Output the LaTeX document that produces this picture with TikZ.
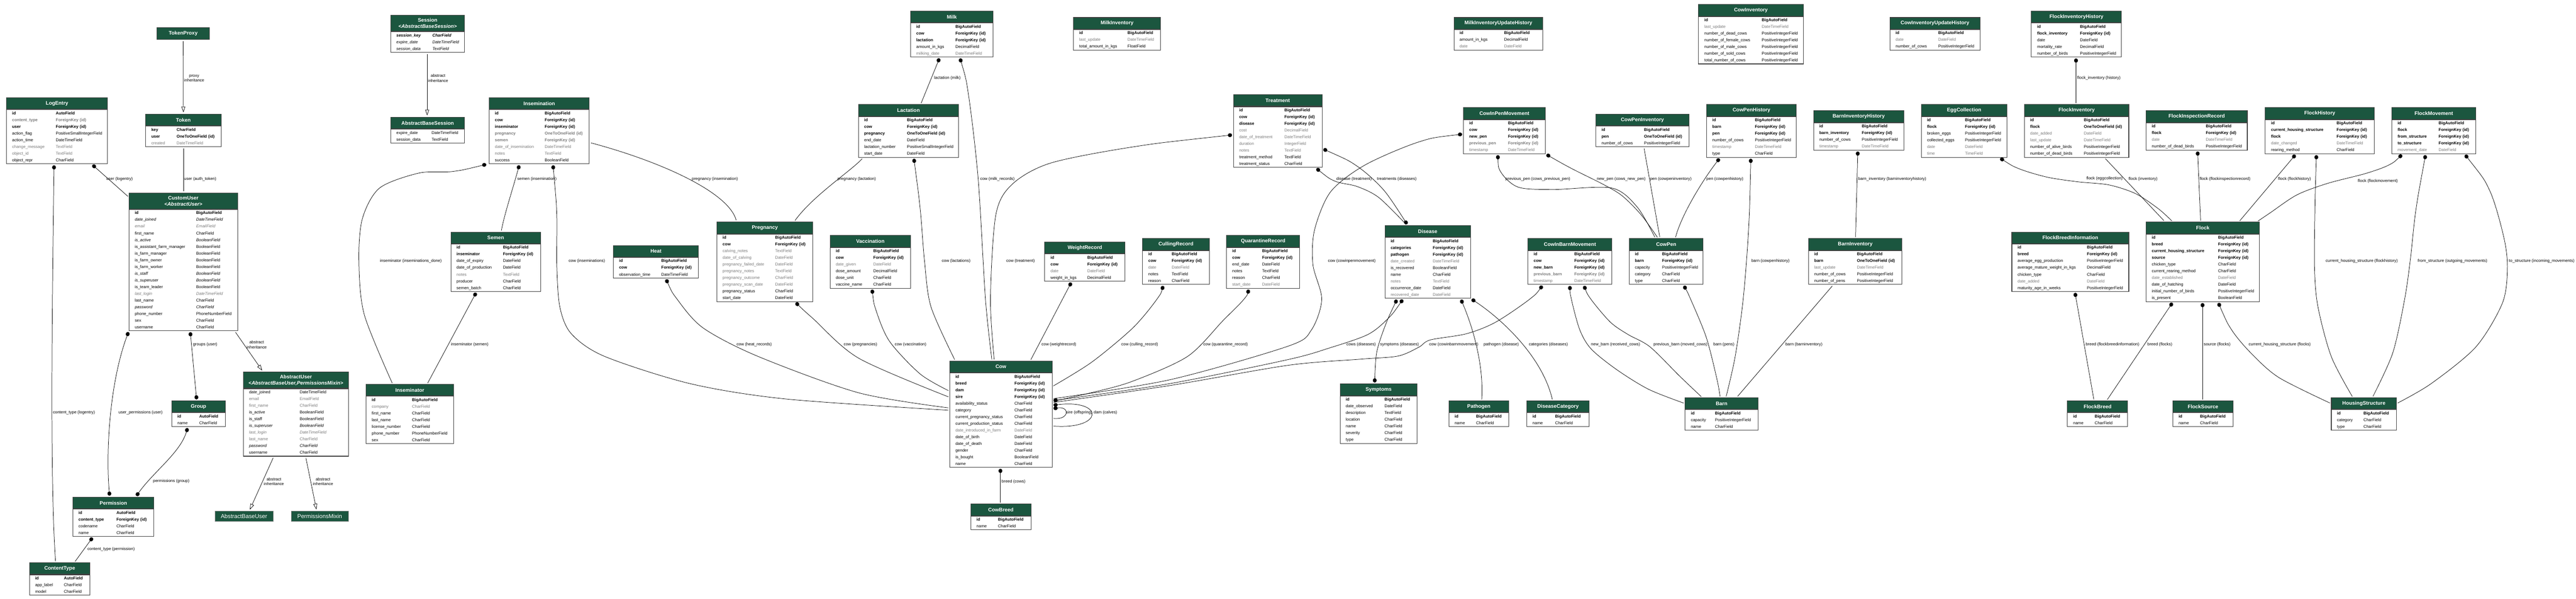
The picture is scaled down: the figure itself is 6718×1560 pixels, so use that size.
\documentclass[tikz,border=0pt]{standalone}
\usepackage{fontspec}
\setmainfont{Liberation Sans}
\usepackage{xcolor}
\usetikzlibrary{arrows.meta,calc}
\definecolor{hdrgreen}{HTML}{1B563F}
\definecolor{fgray}{HTML}{7B7B7B}
% table rows: key, plain, gray, gray key, italic, gray italic, key italic
\newcommand{\rkey}[2]{\textbf{#1} & \textbf{#2}\\}
\newcommand{\rnorm}[2]{#1 & #2\\}
\newcommand{\rgray}[2]{\textcolor{fgray}{#1} & \textcolor{fgray}{#2}\\}
\newcommand{\rgkey}[2]{\textcolor{fgray}{\textbf{#1}} & \textcolor{fgray}{\textbf{#2}}\\}
\newcommand{\rital}[2]{\textit{#1} & \textit{#2}\\}
\newcommand{\rgital}[2]{\textcolor{fgray}{\textit{#1}} & \textcolor{fgray}{\textit{#2}}\\}
\newcommand{\rkital}[2]{\textbf{\textit{#1}} & \textbf{\textit{#2}}\\}

\begin{document}
\begin{tikzpicture}[
	x = 1pt, y = -1pt,
	hdr/.style = {draw = black!75, line width = 1.4pt, fill = hdrgreen, text = white,
		anchor = north west, inner sep = 0pt, minimum height = 30pt,
		font = \bfseries\fontsize{13.3}{16}\selectfont},
	fld/.style = {draw = black!75, line width = 1.4pt, fill = white, anchor = north west,
		inner xsep = 15pt, inner ysep = 0.5pt, font = \fontsize{10.7}{17.5}\selectfont},
	base/.style = {fill = hdrgreen, draw = black!45, text = white, anchor = north west,
		inner sep = 0pt, minimum height = 27pt, font = \fontsize{15}{18}\selectfont},
	fk/.style = {line width = 1pt, arrows = {Circle[length = 11pt, width = 10pt]-},
		shorten <= 3pt, shorten >= 3pt},
	mm/.style = {line width = 1pt, arrows = {Circle[length = 11pt, width = 10pt]-Circle[length = 11pt, width = 10pt]},
		shorten <= 3pt, shorten >= 3pt},
	oto/.style = {line width = 1pt, shorten <= 4pt, shorten >= 4pt},
	inh/.style = {line width = 1pt, arrows = {-Triangle[open, length = 15pt, width = 10pt]},
		shorten <= 4pt, shorten >= 4pt},
	lbl/.style = {anchor = west, inner sep = 0pt, align = center, font = \fontsize{10.7}{13}\selectfont}
	]
	\useasboundingbox[fill = white] (0,0) rectangle (6718,1560);

	% ---- auth / admin models
	\node[hdr, minimum width = 264pt] (le) at (16,254) {LogEntry};
	\node[fld, text width = 234pt] (le-f) at (le.south west) {\begin{tabular}{@{}p{114pt}@{}l@{}}
		\rkey{id}{AutoField}
		\rgkey{content\_type}{ForeignKey (id)}
		\rkey{user}{ForeignKey (id)}
		\rnorm{action\_flag}{PositiveSmallIntegerField}
		\rnorm{action\_time}{DateTimeField}
		\rgray{change\_message}{TextField}
		\rgray{object\_id}{TextField}
		\rnorm{object\_repr}{CharField}
	\end{tabular}};

	\node[hdr, minimum width = 136pt, minimum height = 31pt] (tp) at (409,71) {TokenProxy};

	\node[hdr, minimum width = 197pt] (tok) at (379,297) {Token};
	\node[fld, text width = 167pt] (tok-f) at (tok.south west) {\begin{tabular}{@{}p{66pt}@{}l@{}}
		\rkey{key}{CharField}
		\rkey{user}{OneToOneField (id)}
		\rgray{created}{DateTimeField}
	\end{tabular}};

	\node[hdr, minimum width = 283pt, minimum height = 42pt, align = center] (cu) at (336,502) {CustomUser\\\textit{<AbstractUser>}};
	\node[fld, text width = 253pt] (cu-f) at (cu.south west) {\begin{tabular}{@{}p{160pt}@{}l@{}}
		\rkey{id}{BigAutoField}
		\rital{date\_joined}{DateTimeField}
		\rgital{email}{EmailField}
		\rnorm{first\_name}{CharField}
		\rital{is\_active}{BooleanField}
		\rnorm{is\_assistant\_farm\_manager}{BooleanField}
		\rnorm{is\_farm\_manager}{BooleanField}
		\rnorm{is\_farm\_owner}{BooleanField}
		\rnorm{is\_farm\_worker}{BooleanField}
		\rital{is\_staff}{BooleanField}
		\rital{is\_superuser}{BooleanField}
		\rnorm{is\_team\_leader}{BooleanField}
		\rgital{last\_login}{DateTimeField}
		\rnorm{last\_name}{CharField}
		\rital{password}{CharField}
		\rnorm{phone\_number}{PhoneNumberField}
		\rnorm{sex}{CharField}
		\rnorm{username}{CharField}
	\end{tabular}};

	\node[hdr, minimum width = 193pt, minimum height = 42pt, align = center] (ses) at (1018,39) {Session\\\textit{<AbstractBaseSession>}};
	\node[fld, text width = 163pt] (ses-f) at (ses.south west) {\begin{tabular}{@{}p{94pt}@{}l@{}}
		\rkital{session\_key}{CharField}
		\rital{expire\_date}{DateTimeField}
		\rital{session\_data}{TextField}
	\end{tabular}};

	\node[hdr, minimum width = 193pt] (abs) at (1018,305) {AbstractBaseSession};
	\node[fld, text width = 163pt] (abs-f) at (abs.south west) {\begin{tabular}{@{}p{92pt}@{}l@{}}
		\rnorm{expire\_date}{DateTimeField}
		\rnorm{session\_data}{TextField}
	\end{tabular}};

	\node[hdr, minimum width = 274pt, minimum height = 42pt, align = center] (au) at (634,969) {AbstractUser\\\textit{<AbstractBaseUser,PermissionsMixin>}};
	\node[fld, text width = 244pt] (au-f) at (au.south west) {\begin{tabular}{@{}p{132pt}@{}l@{}}
		\rnorm{date\_joined}{DateTimeField}
		\rgray{email}{EmailField}
		\rgray{first\_name}{CharField}
		\rnorm{is\_active}{BooleanField}
		\rnorm{is\_staff}{BooleanField}
		\rital{is\_superuser}{BooleanField}
		\rgital{last\_login}{DateTimeField}
		\rgray{last\_name}{CharField}
		\rital{password}{CharField}
		\rnorm{username}{CharField}
	\end{tabular}};

	\node[base, minimum width = 152pt] (abu) at (560,1332) {AbstractBaseUser};
	\node[base, minimum width = 149pt] (pm) at (759,1332) {PermissionsMixin};

	\node[hdr, minimum width = 140pt] (grp) at (447,1044) {Group};
	\node[fld, text width = 110pt] (grp-f) at (grp.south west) {\begin{tabular}{@{}p{57pt}@{}l@{}}
		\rkey{id}{AutoField}
		\rnorm{name}{CharField}
	\end{tabular}};

	\node[hdr, minimum width = 212pt] (perm) at (189,1295) {Permission};
	\node[fld, text width = 182pt] (perm-f) at (perm.south west) {\begin{tabular}{@{}p{99pt}@{}l@{}}
		\rkey{id}{AutoField}
		\rkey{content\_type}{ForeignKey (id)}
		\rnorm{codename}{CharField}
		\rnorm{name}{CharField}
	\end{tabular}};

	\node[hdr, minimum width = 158pt] (ct) at (76,1466) {ContentType};
	\node[fld, text width = 128pt] (ct-f) at (ct.south west) {\begin{tabular}{@{}p{75pt}@{}l@{}}
		\rkey{id}{AutoField}
		\rnorm{app\_label}{CharField}
		\rnorm{model}{CharField}
	\end{tabular}};

	% ---- breeding
	\node[hdr, minimum width = 228pt] (insr) at (954,1001) {Inseminator};
	\node[fld, text width = 198pt] (insr-f) at (insr.south west) {\begin{tabular}{@{}p{105pt}@{}l@{}}
		\rkey{id}{BigAutoField}
		\rgray{company}{CharField}
		\rnorm{first\_name}{CharField}
		\rnorm{last\_name}{CharField}
		\rnorm{license\_number}{CharField}
		\rnorm{phone\_number}{PhoneNumberField}
		\rnorm{sex}{CharField}
	\end{tabular}};

	\node[hdr, minimum width = 261pt] (ins) at (1275,254) {Insemination};
	\node[fld, text width = 231pt] (ins-f) at (ins.south west) {\begin{tabular}{@{}p{130pt}@{}l@{}}
		\rkey{id}{BigAutoField}
		\rkey{cow}{ForeignKey (id)}
		\rkey{inseminator}{ForeignKey (id)}
		\rgkey{pregnancy}{OneToOneField (id)}
		\rgkey{semen}{ForeignKey (id)}
		\rgray{date\_of\_insemination}{DateTimeField}
		\rgray{notes}{TextField}
		\rnorm{success}{BooleanField}
	\end{tabular}};

	\node[hdr, minimum width = 234pt] (sem) at (1175,604) {Semen};
	\node[fld, text width = 204pt] (sem-f) at (sem.south west) {\begin{tabular}{@{}p{121pt}@{}l@{}}
		\rkey{id}{BigAutoField}
		\rkey{inseminator}{ForeignKey (id)}
		\rnorm{date\_of\_expiry}{DateField}
		\rnorm{date\_of\_production}{DateField}
		\rgray{notes}{TextField}
		\rnorm{producer}{CharField}
		\rnorm{semen\_batch}{CharField}
	\end{tabular}};

	\node[hdr, minimum width = 222pt] (heat) at (1599,639) {Heat};
	\node[fld, text width = 192pt] (heat-f) at (heat.south west) {\begin{tabular}{@{}p{110pt}@{}l@{}}
		\rkey{id}{BigAutoField}
		\rkey{cow}{ForeignKey (id)}
		\rnorm{observation\_time}{DateTimeField}
	\end{tabular}};

	\node[hdr, minimum width = 250pt] (preg) at (1869,578) {Pregnancy};
	\node[fld, text width = 220pt] (preg-f) at (preg.south west) {\begin{tabular}{@{}p{137pt}@{}l@{}}
		\rkey{id}{BigAutoField}
		\rkey{cow}{ForeignKey (id)}
		\rgray{calving\_notes}{TextField}
		\rgray{date\_of\_calving}{DateField}
		\rgray{pregnancy\_failed\_date}{DateField}
		\rgray{pregnancy\_notes}{TextField}
		\rgray{pregnancy\_outcome}{CharField}
		\rgray{pregnancy\_scan\_date}{DateField}
		\rnorm{pregnancy\_status}{CharField}
		\rnorm{start\_date}{DateField}
	\end{tabular}};

	\node[hdr, minimum width = 210pt] (vac) at (2164,613) {Vaccination};
	\node[fld, text width = 180pt] (vac-f) at (vac.south west) {\begin{tabular}{@{}p{98pt}@{}l@{}}
		\rkey{id}{BigAutoField}
		\rkey{cow}{ForeignKey (id)}
		\rgray{date\_given}{DateField}
		\rnorm{dose\_amount}{DecimalField}
		\rnorm{dose\_unit}{CharField}
		\rnorm{vaccine\_name}{CharField}
	\end{tabular}};

	% ---- milk
	\node[hdr, minimum width = 215pt] (milk) at (2374,28) {Milk};
	\node[fld, text width = 185pt] (milk-f) at (milk.south west) {\begin{tabular}{@{}p{102pt}@{}l@{}}
		\rkey{id}{BigAutoField}
		\rkey{cow}{ForeignKey (id)}
		\rkey{lactation}{ForeignKey (id)}
		\rnorm{amount\_in\_kgs}{DecimalField}
		\rgray{milking\_date}{DateTimeField}
	\end{tabular}};

	\node[hdr, minimum width = 227pt] (mi) at (2799,45) {MilkInventory};
	\node[fld, text width = 197pt] (mi-f) at (mi.south west) {\begin{tabular}{@{}p{126pt}@{}l@{}}
		\rkey{id}{BigAutoField}
		\rgray{last\_update}{DateTimeField}
		\rnorm{total\_amount\_in\_kgs}{FloatField}
	\end{tabular}};

	\node[hdr, minimum width = 261pt] (lac) at (2238,272) {Lactation};
	\node[fld, text width = 231pt] (lac-f) at (lac.south west) {\begin{tabular}{@{}p{112pt}@{}l@{}}
		\rkey{id}{BigAutoField}
		\rkey{cow}{ForeignKey (id)}
		\rkey{pregnancy}{OneToOneField (id)}
		\rnorm{end\_date}{DateField}
		\rnorm{lactation\_number}{PositiveSmallIntegerField}
		\rnorm{start\_date}{DateField}
	\end{tabular}};

	\node[hdr, minimum width = 232pt] (miuh) at (3791,45) {MilkInventoryUpdateHistory};
	\node[fld, text width = 202pt] (miuh-f) at (miuh.south west) {\begin{tabular}{@{}p{116pt}@{}l@{}}
		\rkey{id}{BigAutoField}
		\rnorm{amount\_in\_kgs}{DecimalField}
		\rgray{date}{DateField}
	\end{tabular}};

	% ---- health and records
	\node[hdr, minimum width = 231pt] (tre) at (3216,246) {Treatment};
	\node[fld, text width = 201pt] (tre-f) at (tre.south west) {\begin{tabular}{@{}p{118pt}@{}l@{}}
		\rkey{id}{BigAutoField}
		\rkey{cow}{ForeignKey (id)}
		\rkey{disease}{ForeignKey (id)}
		\rgray{cost}{DecimalField}
		\rgray{date\_of\_treatment}{DateTimeField}
		\rgray{duration}{IntegerField}
		\rgray{notes}{TextField}
		\rnorm{treatment\_method}{TextField}
		\rnorm{treatment\_status}{CharField}
	\end{tabular}};

	\node[hdr, minimum width = 209pt] (wr) at (2724,630) {WeightRecord};
	\node[fld, text width = 179pt] (wr-f) at (wr.south west) {\begin{tabular}{@{}p{96pt}@{}l@{}}
		\rkey{id}{BigAutoField}
		\rkey{cow}{ForeignKey (id)}
		\rgray{date}{DateField}
		\rnorm{weight\_in\_kgs}{DecimalField}
	\end{tabular}};

	\node[hdr, minimum width = 174pt] (cr) at (2979,621) {CullingRecord};
	\node[fld, text width = 144pt] (cr-f) at (cr.south west) {\begin{tabular}{@{}p{61pt}@{}l@{}}
		\rkey{id}{BigAutoField}
		\rkey{cow}{ForeignKey (id)}
		\rgray{date}{DateField}
		\rnorm{notes}{TextField}
		\rnorm{reason}{CharField}
	\end{tabular}};

	\node[hdr, minimum width = 191pt] (qr) at (3198,613) {QuarantineRecord};
	\node[fld, text width = 161pt] (qr-f) at (qr.south west) {\begin{tabular}{@{}p{78pt}@{}l@{}}
		\rkey{id}{BigAutoField}
		\rkey{cow}{ForeignKey (id)}
		\rnorm{end\_date}{DateField}
		\rnorm{notes}{TextField}
		\rnorm{reason}{CharField}
		\rgray{start\_date}{DateField}
	\end{tabular}};

	\node[hdr, minimum width = 223pt] (dis) at (3611,587) {Disease};
	\node[fld, text width = 193pt] (dis-f) at (dis.south west) {\begin{tabular}{@{}p{110pt}@{}l@{}}
		\rkey{id}{BigAutoField}
		\rkey{categories}{ForeignKey (id)}
		\rkey{pathogen}{ForeignKey (id)}
		\rgray{date\_created}{DateTimeField}
		\rnorm{is\_recovered}{BooleanField}
		\rnorm{name}{CharField}
		\rgray{notes}{TextField}
		\rnorm{occurrence\_date}{DateField}
		\rgray{recovered\_date}{DateField}
	\end{tabular}};

	\node[hdr, minimum width = 201pt] (sym) at (3494,1000) {Symptoms};
	\node[fld, text width = 171pt] (sym-f) at (sym.south west) {\begin{tabular}{@{}p{101pt}@{}l@{}}
		\rkey{id}{BigAutoField}
		\rnorm{date\_observed}{DateField}
		\rnorm{description}{TextField}
		\rnorm{location}{CharField}
		\rnorm{name}{CharField}
		\rnorm{severity}{CharField}
		\rnorm{type}{CharField}
	\end{tabular}};

	\node[hdr, minimum width = 156pt] (pat) at (3778,1044) {Pathogen};
	\node[fld, text width = 126pt] (pat-f) at (pat.south west) {\begin{tabular}{@{}p{56pt}@{}l@{}}
		\rkey{id}{BigAutoField}
		\rnorm{name}{CharField}
	\end{tabular}};

	\node[hdr, minimum width = 163pt] (dc) at (3981,1044) {DiseaseCategory};
	\node[fld, text width = 133pt] (dc-f) at (dc.south west) {\begin{tabular}{@{}p{59pt}@{}l@{}}
		\rkey{id}{BigAutoField}
		\rnorm{name}{CharField}
	\end{tabular}};

	% ---- cow and housing
	\node[hdr, minimum width = 267pt] (cow) at (2476,940) {Cow};
	\node[fld, text width = 237pt] (cow-f) at (cow.south west) {\begin{tabular}{@{}p{154pt}@{}l@{}}
		\rkey{id}{BigAutoField}
		\rkey{breed}{ForeignKey (id)}
		\rkey{dam}{ForeignKey (id)}
		\rkey{sire}{ForeignKey (id)}
		\rnorm{availability\_status}{CharField}
		\rnorm{category}{CharField}
		\rnorm{current\_pregnancy\_status}{CharField}
		\rnorm{current\_production\_status}{CharField}
		\rgray{date\_introduced\_in\_farm}{DateField}
		\rnorm{date\_of\_birth}{DateField}
		\rnorm{date\_of\_death}{DateField}
		\rnorm{gender}{CharField}
		\rnorm{is\_bought}{BooleanField}
		\rnorm{name}{CharField}
	\end{tabular}};

	\node[hdr, minimum width = 157pt] (cb) at (2531,1313) {CowBreed};
	\node[fld, text width = 127pt] (cb-f) at (cb.south west) {\begin{tabular}{@{}p{56pt}@{}l@{}}
		\rkey{id}{BigAutoField}
		\rnorm{name}{CharField}
	\end{tabular}};

	\node[hdr, minimum width = 273pt] (ci) at (4429,11) {CowInventory};
	\node[fld, text width = 243pt] (ci-f) at (ci.south west) {\begin{tabular}{@{}p{150pt}@{}l@{}}
		\rkey{id}{BigAutoField}
		\rgray{last\_update}{DateTimeField}
		\rnorm{number\_of\_dead\_cows}{PositiveIntegerField}
		\rnorm{number\_of\_female\_cows}{PositiveIntegerField}
		\rnorm{number\_of\_male\_cows}{PositiveIntegerField}
		\rnorm{number\_of\_sold\_cows}{PositiveIntegerField}
		\rnorm{total\_number\_of\_cows}{PositiveIntegerField}
	\end{tabular}};

	\node[hdr, minimum width = 235pt] (ciuh) at (4928,45) {CowInventoryUpdateHistory};
	\node[fld, text width = 205pt] (ciuh-f) at (ciuh.south west) {\begin{tabular}{@{}p{111pt}@{}l@{}}
		\rkey{id}{BigAutoField}
		\rgray{date}{DateField}
		\rnorm{number\_of\_cows}{PositiveIntegerField}
	\end{tabular}};

	\node[hdr, minimum width = 213pt] (cipm) at (3816,280) {CowInPenMovement};
	\node[fld, text width = 183pt] (cipm-f) at (cipm.south west) {\begin{tabular}{@{}p{101pt}@{}l@{}}
		\rkey{id}{BigAutoField}
		\rkey{cow}{ForeignKey (id)}
		\rkey{new\_pen}{ForeignKey (id)}
		\rgkey{previous\_pen}{ForeignKey (id)}
		\rgray{timestamp}{DateTimeField}
	\end{tabular}};

	\node[hdr, minimum width = 243pt] (cpi) at (4161,297) {CowPenInventory};
	\node[fld, text width = 213pt] (cpi-f) at (cpi.south west) {\begin{tabular}{@{}p{111pt}@{}l@{}}
		\rkey{id}{BigAutoField}
		\rkey{pen}{OneToOneField (id)}
		\rnorm{number\_of\_cows}{PositiveIntegerField}
	\end{tabular}};

	\node[hdr, minimum width = 234pt] (cph) at (4450,272) {CowPenHistory};
	\node[fld, text width = 204pt] (cph-f) at (cph.south west) {\begin{tabular}{@{}p{111pt}@{}l@{}}
		\rkey{id}{BigAutoField}
		\rkey{barn}{ForeignKey (id)}
		\rkey{pen}{ForeignKey (id)}
		\rnorm{number\_of\_cows}{PositiveIntegerField}
		\rgray{timestamp}{DateTimeField}
		\rnorm{type}{CharField}
	\end{tabular}};

	\node[hdr, minimum width = 219pt] (cibm) at (3984,621) {CowInBarnMovement};
	\node[fld, text width = 189pt] (cibm-f) at (cibm.south west) {\begin{tabular}{@{}p{106pt}@{}l@{}}
		\rkey{id}{BigAutoField}
		\rkey{cow}{ForeignKey (id)}
		\rkey{new\_barn}{ForeignKey (id)}
		\rgkey{previous\_barn}{ForeignKey (id)}
		\rgray{timestamp}{DateTimeField}
	\end{tabular}};

	\node[hdr, minimum width = 193pt] (cp) at (4248,621) {CowPen};
	\node[fld, text width = 163pt] (cp-f) at (cp.south west) {\begin{tabular}{@{}p{71pt}@{}l@{}}
		\rkey{id}{BigAutoField}
		\rkey{barn}{ForeignKey (id)}
		\rnorm{capacity}{PositiveIntegerField}
		\rnorm{category}{CharField}
		\rnorm{type}{CharField}
	\end{tabular}};

	\node[hdr, minimum width = 235pt] (bih) at (4729,288) {BarnInventoryHistory};
	\node[fld, text width = 205pt] (bih-f) at (bih.south west) {\begin{tabular}{@{}p{111pt}@{}l@{}}
		\rkey{id}{BigAutoField}
		\rkey{barn\_inventory}{ForeignKey (id)}
		\rnorm{number\_of\_cows}{PositiveIntegerField}
		\rgray{timestamp}{DateTimeField}
	\end{tabular}};

	\node[hdr, minimum width = 243pt] (bi) at (4716,621) {BarnInventory};
	\node[fld, text width = 213pt] (bi-f) at (bi.south west) {\begin{tabular}{@{}p{111pt}@{}l@{}}
		\rkey{id}{BigAutoField}
		\rkey{barn}{OneToOneField (id)}
		\rgray{last\_update}{DateTimeField}
		\rnorm{number\_of\_cows}{PositiveIntegerField}
		\rnorm{number\_of\_pens}{PositiveIntegerField}
	\end{tabular}};

	\node[hdr, minimum width = 190pt] (barn) at (4394,1036) {Barn};
	\node[fld, text width = 160pt] (barn-f) at (barn.south west) {\begin{tabular}{@{}p{63pt}@{}l@{}}
		\rkey{id}{BigAutoField}
		\rnorm{capacity}{PositiveIntegerField}
		\rnorm{name}{CharField}
	\end{tabular}};

	% ---- poultry
	\node[hdr, minimum width = 223pt] (ec) at (5010,272) {EggCollection};
	\node[fld, text width = 193pt] (ec-f) at (ec.south west) {\begin{tabular}{@{}p{99pt}@{}l@{}}
		\rkey{id}{BigAutoField}
		\rkey{flock}{ForeignKey (id)}
		\rnorm{broken\_eggs}{PositiveIntegerField}
		\rnorm{collected\_eggs}{PositiveIntegerField}
		\rgray{date}{DateField}
		\rgray{time}{TimeField}
	\end{tabular}};

	\node[hdr, minimum width = 235pt] (fih) at (5297,28) {FlockInventoryHistory};
	\node[fld, text width = 205pt] (fih-f) at (fih.south west) {\begin{tabular}{@{}p{112pt}@{}l@{}}
		\rkey{id}{BigAutoField}
		\rkey{flock\_inventory}{ForeignKey (id)}
		\rnorm{date}{DateField}
		\rnorm{mortality\_rate}{DecimalField}
		\rnorm{number\_of\_birds}{PositiveIntegerField}
	\end{tabular}};

	\node[hdr, minimum width = 272pt] (fi) at (5279,272) {FlockInventory};
	\node[fld, text width = 242pt] (fi-f) at (fi.south west) {\begin{tabular}{@{}p{140pt}@{}l@{}}
		\rkey{id}{BigAutoField}
		\rkey{flock}{OneToOneField (id)}
		\rgray{date\_added}{DateField}
		\rgray{last\_update}{DateTimeField}
		\rnorm{number\_of\_alive\_birds}{PositiveIntegerField}
		\rnorm{number\_of\_dead\_birds}{PositiveIntegerField}
	\end{tabular}};

	\node[hdr, minimum width = 305pt] (fbi) at (5246,604) {FlockBreedInformation};
	\node[fld, text width = 275pt] (fbi-f) at (fbi.south west) {\begin{tabular}{@{}p{181pt}@{}l@{}}
		\rkey{id}{BigAutoField}
		\rkey{breed}{ForeignKey (id)}
		\rnorm{average\_egg\_production}{PositiveIntegerField}
		\rnorm{average\_mature\_weight\_in\_kgs}{DecimalField}
		\rnorm{chicken\_type}{CharField}
		\rgray{date\_added}{DateField}
		\rnorm{maturity\_age\_in\_weeks}{PositiveIntegerField}
	\end{tabular}};

	\node[hdr, minimum width = 264pt] (fir) at (5596,288) {FlockInspectionRecord};
	\node[fld, text width = 234pt] (fir-f) at (fir.south west) {\begin{tabular}{@{}p{141pt}@{}l@{}}
		\rkey{id}{BigAutoField}
		\rkey{flock}{ForeignKey (id)}
		\rgray{date}{DateTimeField}
		\rnorm{number\_of\_dead\_birds}{PositiveIntegerField}
	\end{tabular}};

	\node[hdr, minimum width = 284pt] (fh) at (5907,280) {FlockHistory};
	\node[fld, text width = 254pt] (fh-f) at (fh.south west) {\begin{tabular}{@{}p{171pt}@{}l@{}}
		\rkey{id}{BigAutoField}
		\rkey{current\_housing\_structure}{ForeignKey (id)}
		\rkey{flock}{ForeignKey (id)}
		\rgray{date\_changed}{DateTimeField}
		\rnorm{rearing\_method}{CharField}
	\end{tabular}};

	\node[hdr, minimum width = 219pt] (fm) at (6237,280) {FlockMovement};
	\node[fld, text width = 189pt] (fm-f) at (fm.south west) {\begin{tabular}{@{}p{107pt}@{}l@{}}
		\rkey{id}{BigAutoField}
		\rkey{flock}{ForeignKey (id)}
		\rkey{from\_structure}{ForeignKey (id)}
		\rkey{to\_structure}{ForeignKey (id)}
		\rgray{movement\_date}{DateField}
	\end{tabular}};

	\node[hdr, minimum width = 296pt] (flock) at (5596,578) {Flock};
	\node[fld, text width = 266pt] (flock-f) at (flock.south west) {\begin{tabular}{@{}p{173pt}@{}l@{}}
		\rkey{id}{BigAutoField}
		\rkey{breed}{ForeignKey (id)}
		\rkey{current\_housing\_structure}{ForeignKey (id)}
		\rkey{source}{ForeignKey (id)}
		\rnorm{chicken\_type}{CharField}
		\rnorm{current\_rearing\_method}{CharField}
		\rgray{date\_established}{DateField}
		\rnorm{date\_of\_hatching}{DateField}
		\rnorm{initial\_number\_of\_birds}{PositiveIntegerField}
		\rnorm{is\_present}{BooleanField}
	\end{tabular}};

	\node[hdr, minimum width = 157pt] (fb) at (5391,1044) {FlockBreed};
	\node[fld, text width = 127pt] (fb-f) at (fb.south west) {\begin{tabular}{@{}p{56pt}@{}l@{}}
		\rkey{id}{BigAutoField}
		\rnorm{name}{CharField}
	\end{tabular}};

	\node[hdr, minimum width = 157pt] (fs) at (5666,1044) {FlockSource};
	\node[fld, text width = 127pt] (fs-f) at (fs.south west) {\begin{tabular}{@{}p{56pt}@{}l@{}}
		\rkey{id}{BigAutoField}
		\rnorm{name}{CharField}
	\end{tabular}};

	\node[hdr, minimum width = 170pt] (hs) at (6079,1036) {HousingStructure};
	\node[fld, text width = 140pt] (hs-f) at (hs.south west) {\begin{tabular}{@{}p{69pt}@{}l@{}}
		\rkey{id}{BigAutoField}
		\rnorm{category}{CharField}
		\rnorm{type}{CharField}
	\end{tabular}};

	% ---- relations: auth
	\draw[inh] (tp.south) -- (tok.north);
	\node[lbl] (l1) at (480,204) {proxy\\inheritance};
	\draw[oto] (tok-f.south) -- (cu.north);
	\node[lbl] (l2) at (480,467) {user (auth\_token)};
	\draw[fk] ($(le-f.south west)+(223,0)$) -- ($(cu.north west)+(0,12)$);
	\node[lbl] (l3) at (277,467) {user (logentry)};
	\draw[fk] ($(le-f.south west)+(125,0)$) .. controls (136,800) and (130,1250) .. ($(ct.north west)+(69,0)$);
	\node[lbl] (l4) at (138,1076) {content\_type (logentry)};
	\draw[mm] ($(cu-f.south west)+(160,0)$) -- ($(grp.north west)+(66,0)$);
	\node[lbl] (l5) at (503,898) {groups (user)};
	\draw[mm] (cu-f.south west) .. controls (285,1000) and (276,1180) .. ($(perm.north west)+(97,0)$);
	\node[lbl] (l6) at (309,1076) {user\_permissions (user)};
	\draw[mm] ($(grp-f.south west)+(43,0)$) .. controls (470,1180) and (400,1230) .. ($(perm.north west)+(165,0)$);
	\node[lbl] (l7) at (399,1254) {permissions (group)};
	\draw[fk] ($(perm-f.south west)+(54,0)$) -- ($(ct.north west)+(118,0)$);
	\node[lbl] (l8) at (228,1432) {content\_type (permission)};
	\draw[inh] ($(cu-f.south west)+(276,0)$) -- ($(au.north west)+(52,0)$);
	\node[lbl] (l9) at (643,898) {abstract\\inheritance};
	\draw[inh] ($(au-f.south west)+(80,0)$) -- ($(abu.north west)+(90,0)$);
	\node[lbl] (l10) at (688,1255) {abstract\\inheritance};
	\draw[inh] ($(au-f.south west)+(163,0)$) -- ($(pm.north west)+(67,0)$);
	\node[lbl] (l11) at (816,1255) {abstract\\inheritance};
	\draw[inh] ($(ses-f.south west)+(96,0)$) -- ($(abs.north west)+(96,0)$);
	\node[lbl] (l12) at (1116,204) {abstract\\inheritance};

	% ---- relations: breeding
	\draw[fk] plot[smooth] coordinates {($(ins-f.south west)+(-4,0)$) (1180,447) (1093,451) (990,490) (945,570) (936,680) (950,820) ($(insr.north west)+(70,0)$)};
	\node[lbl] (l13) at (991,680) {inseminator (inseminations\_done)};
	\draw[fk] ($(sem-f.south west)+(68,0)$) -- ($(insr.north west)+(160,0)$);
	\node[lbl] (l14) at (1176,898) {inseminator (semen)};
	\draw[fk] ($(ins-f.south west)+(80,0)$) .. controls (1335,500) and (1315,560) .. ($(sem.north west)+(132,0)$);
	\node[lbl] (l15) at (1349,467) {semen (insemination)};
	\draw[oto] ($(ins-f.north east)+(0,86)$) .. controls (1720,420) and (1900,500) .. ($(preg.north west)+(52,0)$);
	\node[lbl] (l16) at (1804,467) {pregnancy (insemination)};
	\draw[oto] ($(lac-f.south west)+(13,0)$) .. controls (2220,445) and (2120,510) .. ($(preg.north west)+(202,0)$);
	\node[lbl] (l17) at (2184,467) {pregnancy (lactation)};
	\draw[fk] plot[smooth] coordinates {($(ins-f.south west)+(167,0)$) (1452,560) (1452,690) (1460,800) (1490,870) (1577,929) (1800,1000) (2050,1040) ($(cow-f.north west)+(0,98)$)};
	\node[lbl] (l18) at (1483,680) {cow (inseminations)};
	\draw[fk] plot[smooth] coordinates {($(heat-f.south west)+(137,0)$) (1766,780) (1834,855) (1977,929) (2240,1024) ($(cow-f.north west)+(0,92)$)};
	\node[lbl] (l19) at (1921,898) {cow (heat\_records)};
	\draw[fk] plot[smooth] coordinates {($(preg-f.south west)+(204,0)$) (2120,830) (2240,934) ($(cow-f.north west)+(0,64)$)};
	\node[lbl] (l20) at (2200,898) {cow (pregnancies)};
	\draw[fk] plot[smooth] coordinates {($(vac-f.south west)+(110,0)$) (2285,810) (2320,890) (2400,975) ($(cow-f.north west)+(0,48)$)};
	\node[lbl] (l21) at (2333,898) {cow (vaccination)};
	\draw[fk] plot[smooth] coordinates {($(lac-f.south west)+(145,0)$) (2400,547) (2411,680) (2428,800) ($(cow.north west)+(15,0)$)};
	\node[lbl] (l22) at (2456,680) {cow (lactations)};

	% ---- relations: milk
	\draw[fk] ($(milk-f.south west)+(77,0)$) -- ($(lac.north west)+(163,0)$);
	\node[lbl] (l23) at (2436,204) {lactation (milk)};
	\draw[fk] plot[smooth] coordinates {($(milk-f.south west)+(129,0)$) (2526,249) (2551,467) (2570,780) ($(cow.north west)+(111,0)$)};
	\node[lbl] (l24) at (2556,467) {cow (milk\_records)};

	% ---- relations: health and records
	\draw[fk] plot[smooth] coordinates {($(tre-f.north west)+(0,74)$) (2954,383) (2740,425) (2640,480) (2597,560) (2583,780) ($(cow.north west)+(117,0)$)};
	\node[lbl] (l25) at (2624,680) {cow (treatment)};
	\draw[fk] ($(wr-f.south west)+(71,0)$) -- ($(cow.north west)+(211,0)$);
	\node[lbl] (l26) at (2716,898) {cow (weightrecord)};
	\draw[fk] plot[smooth] coordinates {($(cr-f.south west)+(55,0)$) (3017,780) (2954,855) (2847,944) ($(cow-f.north east)+(0,36)$)};
	\node[lbl] (l27) at (2924,898) {cow (culling\_record)};
	\draw[fk] plot[smooth] coordinates {($(qr-f.south west)+(59,0)$) (3244,780) (3190,835) (3097,929) (2950,995) (2840,1025) ($(cow-f.north east)+(0,75)$)};
	\node[lbl] (l28) at (3138,898) {cow (quarantine\_record)};
	\draw[mm] plot[smooth] coordinates {($(dis-f.south west)+(49,0)$) (3620,830) (3567,872) (3467,907) (3360,937) (3050,1000) ($(cow-f.north east)+(0,73)$)};
	\node[lbl] (l29) at (3511,898) {cows (diseases)};
	\draw[mm] plot[smooth] coordinates {($(dis-f.south west)+(33,0)$) (3612,850) (3590,920) ($(sym.north west)+(91,0)$)};
	\node[lbl] (l30) at (3599,898) {symptoms (diseases)};
	\draw[fk] plot[smooth] coordinates {($(cibm-f.south west)+(40,0)$) (3989,780) (3900,840) (3824,870) (3730,886) (3700,905) (3646,928) (3550,936) (3360,952) (3050,1005) ($(cow-f.north east)+(0,78)$)};
	\node[lbl] (l31) at (3727,898) {cow (cowinbarnmovement)};
	\draw[fk] plot[smooth] coordinates {($(cipm-f.north west)+(0,38)$) (3700,370) (3560,430) (3470,500) (3428,600) (3424,690) (3447,780) (3420,860) (3360,902) (3050,990) ($(cow-f.north east)+(0,68)$)};
	\node[lbl] (l32) at (3463,680) {cow (cowinpenmovement)};
	\draw[fk] plot[smooth] coordinates {($(tre-f.south west)+(215,0)$) (3481,472) (3539,486) (3596,515) ($(dis.north west)+(58,0)$)};
	\node[lbl] (l33) at (3485,467) {disease (treatment)};
	\draw[mm] plot[smooth] coordinates {($(tre-f.north east)+(0,110)$) (3539,433) (3610,497) ($(dis.north west)+(60,0)$)};
	\node[lbl] (l34) at (3591,467) {treatments (diseases)};
	\draw[fk] ($(dis-f.south west)+(198,0)$) .. controls (3840,850) and (3870,950) .. ($(pat.north west)+(86,0)$);
	\node[lbl] (l35) at (3869,898) {pathogen (disease)};
	\draw[fk] (dis-f.south east) .. controls (3900,820) and (4020,920) .. ($(dc.north west)+(68,0)$);
	\node[lbl] (l36) at (3987,898) {categories (diseases)};

	% ---- relations: barns and pens
	\draw[fk] plot[smooth] coordinates {($(cibm-f.south west)+(110,0)$) (4098,780) (4120,860) (4150,910) (4217,964) (4300,1015) (barn.west)};
	\node[lbl] (l37) at (4149,898) {new\_barn (received\_cows)};
	\draw[fk] plot[smooth] coordinates {($(cibm-f.south west)+(146,0)$) (4149,780) (4200,840) (4246,872) (4303,904) (4380,980) ($(barn.north west)+(45,0)$)};
	\node[lbl] (l38) at (4312,898) {previous\_barn (moved\_cows)};
	\draw[fk] plot[smooth] coordinates {($(cp-f.south west)+(142,0)$) (4409,780) (4450,880) (4478,990) ($(barn.north west)+(92,0)$)};
	\node[lbl] (l39) at (4468,898) {barn (pens)};
	\draw[fk] plot[smooth] coordinates {($(cph-f.south west)+(116,0)$) (4560,600) (4546,780) (4525,930) ($(barn.north west)+(107,0)$)};
	\node[lbl] (l40) at (4567,680) {barn (cowpenhistory)};
	\draw[oto] ($(bi-f.south west)+(65,0)$) -- ($(barn.north west)+(135,0)$);
	\node[lbl] (l41) at (4656,898) {barn (barninventory)};
	\draw[fk] plot[smooth] coordinates {($(cipm-f.south west)+(90,0)$) (3915,450) (3960,488) (4050,494) (4203,490) (4270,540) ($(cp.north west)+(69,0)$)};
	\node[lbl] (l42) at (3926,467) {previous\_pen (cows\_previous\_pen)};
	\draw[fk] plot[smooth] coordinates {(cipm-f.south east) (4100,440) (4180,480) (4230,510) (4280,560) ($(cp.north west)+(76,0)$)};
	\node[lbl] (l43) at (4164,467) {new\_pen (cows\_new\_pen)};
	\draw[oto] ($(cpi-f.south west)+(126,0)$) -- ($(cp.north west)+(81,0)$);
	\node[lbl] (l44) at (4303,467) {pen (cowpeninventory)};
	\draw[fk] ($(cph-f.south west)+(36,0)$) .. controls (4440,470) and (4385,560) .. ($(cp.north west)+(121,0)$);
	\node[lbl] (l45) at (4450,467) {pen (cowpenhistory)};
	\draw[fk] ($(bih-f.south west)+(116,0)$) -- ($(bi.north west)+(123,0)$);
	\node[lbl] (l46) at (4846,467) {barn\_inventory (barninventoryhistory)};

	% ---- relations: poultry
	\draw[fk] plot[smooth] coordinates {($(ec-f.south west)+(204,0)$) (5266,440) (5340,462) (5420,474) (5500,482) (5570,505) (5630,545) ($(flock.north west)+(70,0)$)};
	\node[lbl] (l47) at (5441,465) {flock (eggcollection)};
	\draw[oto] ($(fi-f.south west)+(209,0)$) -- ($(flock.north west)+(50,0)$);
	\node[lbl] (l48) at (5551,467) {flock (inventory)};
	\draw[fk] ($(fih-f.south west)+(117,0)$) -- ($(fi.north west)+(135,0)$);
	\node[lbl] (l49) at (5417,204) {flock\_inventory (history)};
	\draw[fk] ($(fir-f.south west)+(135,0)$) -- ($(flock.north west)+(143,0)$);
	\node[lbl] (l50) at (5736,467) {flock (flockinspectionrecord)};
	\draw[fk] ($(fh-f.south west)+(81,0)$) -- ($(flock.north west)+(243,0)$);
	\node[lbl] (l51) at (5941,467) {flock (flockhistory)};
	\draw[fk] plot[smooth] coordinates {($(fm-f.south west)+(29,0)$) (6230,430) (6170,452) (6070,478) (5990,508) (5920,555) ($(flock.north west)+(290,0)$)};
	\node[lbl] (l52) at (6149,472) {flock (flockmovement)};
	\draw[fk] plot[smooth] coordinates {($(fh-f.south west)+(134,0)$) (6037,550) (6036,700) (6045,800) (6080,930) ($(hs.north west)+(57,0)$)};
	\node[lbl] (l53) at (6065,680) {current\_housing\_structure (flockhistory)};
	\draw[fk] plot[smooth] coordinates {($(fm-f.south west)+(89,0)$) (6300,550) (6286,676) (6271,780) (6240,920) ($(hs.north west)+(108,0)$)};
	\node[lbl] (l54) at (6305,680) {from\_structure (outgoing\_movements)};
	\draw[fk] plot[smooth] coordinates {($(fm-f.south west)+(190,0)$) (6493,497) (6530,620) (6539,700) (6526,790) (6457,904) (6340,1000) (hs.east)};
	\node[lbl] (l55) at (6543,680) {to\_structure (incoming\_movements)};
	\draw[fk] ($(flock-f.south west)+(71,0)$) -- ($(fb.north west)+(103,0)$);
	\node[lbl] (l56) at (5600,898) {breed (flocks)};
	\draw[fk] ($(fbi-f.south west)+(165,0)$) -- ($(fb.north west)+(70,0)$);
	\node[lbl] (l57) at (5439,898) {breed (flockbreedinformation)};
	\draw[fk] ($(flock-f.south west)+(148,0)$) -- ($(fs.north west)+(78,0)$);
	\node[lbl] (l58) at (5747,898) {source (flocks)};
	\draw[fk] plot[smooth] coordinates {($(flock-f.south west)+(188,0)$) (5820,860) (5870,920) (5943,984) (hs.west)};
	\node[lbl] (l59) at (5864,898) {current\_housing\_structure (flocks)};

	% ---- relations: cow itself
	\draw[fk] ($(cow-f.south west)+(133,0)$) -- ($(cb.north west)+(78,0)$);
	\node[lbl] (l60) at (2612,1255) {breed (cows)};
	\draw[fk] ($(cow-f.north east)+(0,94)$) .. controls (2790,1058) and (2790,1095) .. ($(cow-f.north east)+(0,119)$);
	\node[lbl] (l61) at (2780,1076) {sire (offspring)};
	\draw[fk] ($(cow-f.north east)+(0,85)$) .. controls (2880,1040) and (2880,1120) .. ($(cow-f.north east)+(0,139)$);
	\node[lbl] (l62) at (2852,1076) {dam (calves)};
\end{tikzpicture}
\end{document}
